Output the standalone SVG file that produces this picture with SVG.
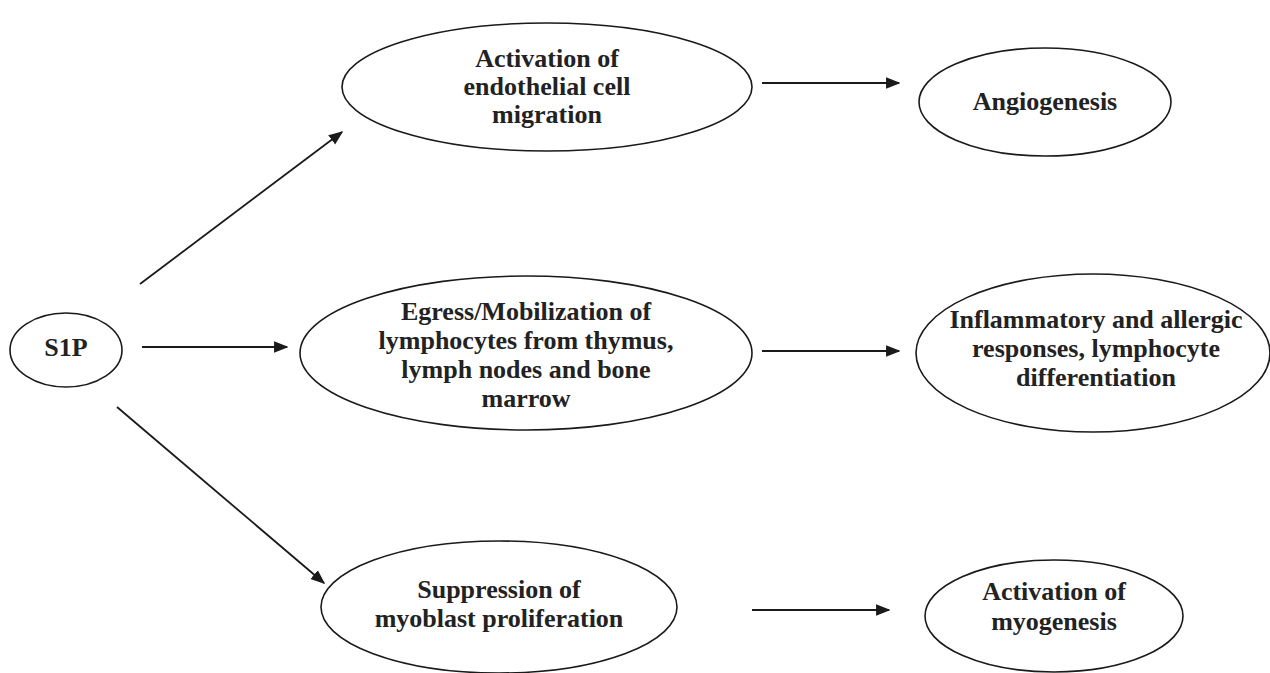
<svg xmlns="http://www.w3.org/2000/svg" width="1270" height="673" viewBox="0 0 1270 673">
<style>
.n{fill:#fff;stroke:#1a1a1a;stroke-width:1.6}
.t{font-family:"Liberation Serif","Times New Roman",serif;font-weight:bold;font-size:26px;fill:#222;text-anchor:middle}
.c line{stroke:#1a1a1a;stroke-width:1.8;marker-end:url(#ah)}
</style>
<defs>
<marker id="ah" viewBox="0 0 10 10" refX="9" refY="5" markerWidth="8" markerHeight="8" markerUnits="strokeWidth" orient="auto">
<path d="M0,1 L10,5 L0,9 Z" fill="#1a1a1a"/>
</marker>
</defs>
<rect width="1270" height="673" fill="#fff"/>
<g class="c" id="connectors">
<line x1="140" y1="284" x2="342" y2="132"/>
<line x1="142" y1="347" x2="287" y2="347"/>
<line x1="117" y1="407" x2="324" y2="583"/>
<line x1="762" y1="83" x2="899" y2="83"/>
<line x1="762" y1="351" x2="899" y2="351"/>
<line x1="752" y1="610" x2="889" y2="610"/>
</g>
<g id="s1p">
<ellipse class="n" cx="66" cy="350" rx="56" ry="37"/>
<text class="t" x="66" y="356">S1P</text>
</g>
<g id="endothelial">
<ellipse class="n" cx="547" cy="87" rx="205" ry="64"/>
<text class="t" x="547" y="67">Activation of</text>
<text class="t" x="547" y="95">endothelial cell</text>
<text class="t" x="547" y="123">migration</text>
</g>
<g id="angiogenesis">
<ellipse class="n" cx="1045" cy="102" rx="126" ry="54"/>
<text class="t" x="1045" y="110">Angiogenesis</text>
</g>
<g id="egress">
<ellipse class="n" cx="526" cy="353" rx="226" ry="77"/>
<text class="t" x="526" y="320">Egress/Mobilization of</text>
<text class="t" x="526" y="349">lymphocytes from thymus,</text>
<text class="t" x="526" y="378">lymph nodes and bone</text>
<text class="t" x="526" y="407">marrow</text>
</g>
<g id="inflammatory">
<ellipse class="n" cx="1093" cy="353" rx="177" ry="79"/>
<text class="t" x="1096" y="328">Inflammatory and allergic</text>
<text class="t" x="1096" y="357">responses, lymphocyte</text>
<text class="t" x="1096" y="386">differentiation</text>
</g>
<g id="suppression">
<ellipse class="n" cx="499" cy="607" rx="178" ry="66"/>
<text class="t" x="499" y="598">Suppression of</text>
<text class="t" x="499" y="627">myoblast proliferation</text>
</g>
<g id="myogenesis">
<ellipse class="n" cx="1054" cy="616" rx="129" ry="56"/>
<text class="t" x="1054" y="600">Activation of</text>
<text class="t" x="1054" y="630">myogenesis</text>
</g>
</svg>
